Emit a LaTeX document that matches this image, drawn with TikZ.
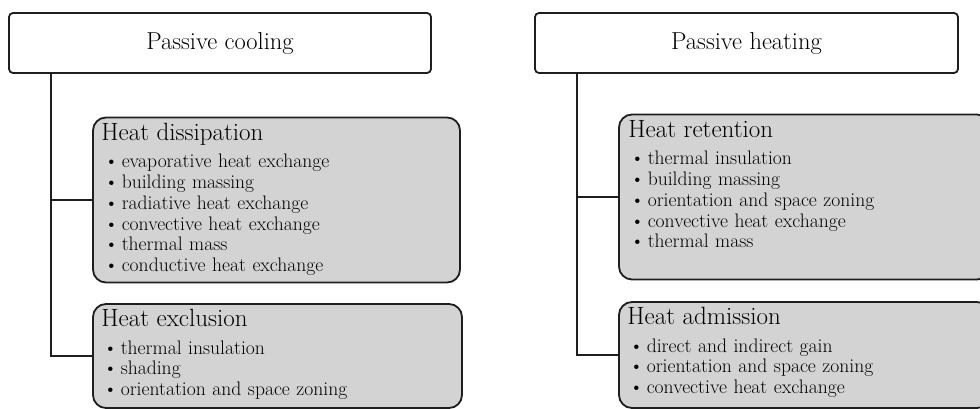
\documentclass[tikz,border=0pt]{standalone}
\usepackage{xcolor}
\usepackage{tikz}
\usetikzlibrary{positioning}
\definecolor{boxgray}{RGB}{211,211,211}
\definecolor{edgegray}{RGB}{30,30,30}
\newcommand{\blt}{\makebox[17.5pt][l]{\textbullet}}

\begin{document}
\begin{tikzpicture}[x=1pt, y=1pt]
  \tikzstyle{main} = [draw=edgegray, line width=1.8pt, rounded corners=4pt, fill=white, inner sep=0pt, font=\fontsize{24.5}{28}\selectfont]
  \tikzstyle{group} = [draw=edgegray, line width=1.8pt, rounded corners=13pt, fill=boxgray, inner sep=0pt]
  \tikzstyle{head} = [anchor=base west, inner sep=0pt, font=\fontsize{25}{28}\selectfont]
  \tikzstyle{items} = [anchor=base west, inner sep=0pt, text width=300pt, align=left, font=\fontsize{19.6}{20.8}\selectfont]
  \tikzstyle{link} = [draw=edgegray, line width=1.8pt]
  \useasboundingbox (0,0) rectangle (980,408);
  \clip (0,0) rectangle (980,408);
  % top boxes
  \node[main, minimum width=422pt, minimum height=60pt] (cool) at (220,365) {Passive cooling};
  \node[main, minimum width=423pt, minimum height=60pt] (heat) at (746.5,365) {Passive heating};
  % cooling groups
  \node[group, minimum width=367pt, minimum height=165pt] (dis) at (276.5,208) {};
  \node[group, minimum width=369pt, minimum height=104pt] (exc) at (277.5,52) {};
  \node[head] (dis-head) at ([shift={(9,-24)}]dis.north west) {Heat dissipation};
  \node[items] (dis-list) at ([shift={(12,-51)}]dis.north west) {\blt evaporative heat exchange\\ \blt building massing\\ \blt radiative heat exchange\\ \blt convective heat exchange\\ \blt thermal mass\\ \blt conductive heat exchange};
  \node[head] (exc-head) at ([shift={(9,-23)}]exc.north west) {Heat exclusion};
  \node[items] (exc-list) at ([shift={(11,-51)}]exc.north west) {\blt thermal insulation\\ \blt shading\\ \blt orientation and space zoning};
  % heating groups
  \node[group, minimum width=371pt, minimum height=165pt] (ret) at (804.5,211) {};
  \node[group, minimum width=371pt, minimum height=106pt] (adm) at (804.5,53) {};
  \node[head] (ret-head) at ([shift={(10,-24)}]ret.north west) {Heat retention};
  \node[items] (ret-list) at ([shift={(12,-51)}]ret.north west) {\blt thermal insulation\\ \blt building massing\\ \blt orientation and space zoning\\ \blt convective heat exchange\\ \blt thermal mass};
  \node[head] (adm-head) at ([shift={(9,-23)}]adm.north west) {Heat admission};
  \node[items] (adm-list) at ([shift={(11,-51)}]adm.north west) {\blt direct and indirect gain\\ \blt orientation and space zoning\\ \blt convective heat exchange};
  % trunks
  \coordinate (cool-trunk) at ([xshift=43pt]cool.south west);
  \coordinate (heat-trunk) at ([xshift=43pt]heat.south west);
  \draw[link] (cool-trunk) |- (dis.west);
  \draw[link] (cool-trunk) |- (exc.west);
  \draw[link] (heat-trunk) |- (ret.west);
  \draw[link] (heat-trunk) |- (adm.west);
\end{tikzpicture}
\end{document}
